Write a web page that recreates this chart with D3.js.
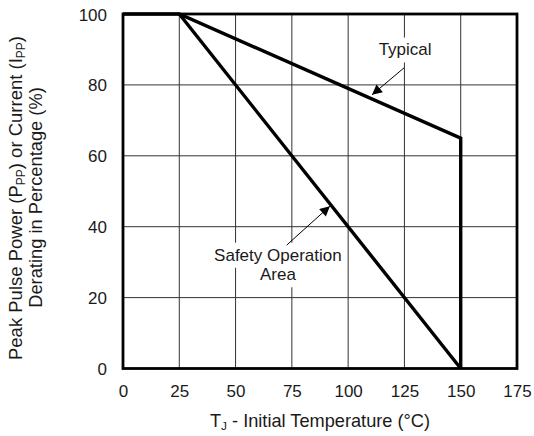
<!DOCTYPE html>
<html>
<head>
<meta charset="utf-8">
<script src="https://cdn.jsdelivr.net/npm/d3@7"></script>
<style>
  body { margin: 0; background: #fff; }
  text { font-family: "Liberation Sans", Arial, sans-serif; fill: #1a1a1a; }
</style>
</head>
<body>
<svg id="chart"></svg>
<script>
// data
const xTicks = [0, 25, 50, 75, 100, 125, 150, 175];
const yTicks = [0, 20, 40, 60, 80, 100];
const typical = [[0, 100], [25, 100], [150, 65], [150, 0]];
const safety = [[25, 100], [150, 0]];

const width = 534;
const height = 436;
const margin = { top: 14, right: 17, bottom: 67.5, left: 123 };
const visWidth = width - margin.left - margin.right;
const visHeight = height - margin.top - margin.bottom;

const svg = d3.select("#chart").attr("width", width).attr("height", height);

const x = d3.scaleLinear().domain([0, 175]).range([0, visWidth]);
const y = d3.scaleLinear().domain([0, 100]).range([visHeight, 0]);

const g = svg.append("g").attr("transform", `translate(${margin.left}, ${margin.top})`);

// grid
g.append("g")
  .selectAll("line")
  .data(xTicks.slice(1, -1))
  .join("line")
  .attr("x1", (d) => x(d))
  .attr("x2", (d) => x(d))
  .attr("y1", 0)
  .attr("y2", visHeight)
  .attr("stroke", "#333")
  .attr("stroke-width", 1);

g.append("g")
  .selectAll("line")
  .data(yTicks.slice(1, -1))
  .join("line")
  .attr("x1", 0)
  .attr("x2", visWidth)
  .attr("y1", (d) => y(d))
  .attr("y2", (d) => y(d))
  .attr("stroke", "#333")
  .attr("stroke-width", 1);

// tick labels
const xAxis = g.append("g")
  .attr("transform", `translate(0,${visHeight})`)
  .call(d3.axisBottom(x).tickValues(xTicks).tickSize(0).tickPadding(0))
  .call((g) => g.select(".domain").remove());
xAxis.selectAll("text")
  .attr("font-size", 17)
  .attr("fill", "#1a1a1a")
  .attr("dy", null)
  .attr("y", 28.5);

const yAxis = g.append("g")
  .call(d3.axisLeft(y).tickValues(yTicks).tickSize(0).tickPadding(16))
  .call((g) => g.select(".domain").remove());
yAxis.selectAll("text")
  .attr("font-size", 17)
  .attr("fill", "#1a1a1a")
  .attr("dy", 6);

// annotation labels with white boxes
function label(lines, cx, base, lh) {
  const grp = g.append("g");
  const texts = lines.map((t, i) =>
    grp.append("text")
      .attr("x", cx)
      .attr("y", base + i * lh)
      .attr("text-anchor", "middle")
      .attr("font-size", 17)
      .text(t)
  );
  texts.forEach((t) => {
    const b = t.node().getBBox();
    grp.insert("rect", "text")
      .attr("x", b.x - 3)
      .attr("y", b.y - 3)
      .attr("width", b.width + 6)
      .attr("height", b.height + 6)
      .attr("fill", "white");
  });
}

label(["Typical"], x(125.3), y(88.3), 0);
label(["Safety Operation", "Area"], x(68.8), y(30.4), 19.5);

// arrows
svg.append("defs").append("marker")
  .attr("id", "arrow")
  .attr("viewBox", "0 0 10 10")
  .attr("refX", 10)
  .attr("refY", 5)
  .attr("markerWidth", 13)
  .attr("markerHeight", 10)
  .attr("markerUnits", "userSpaceOnUse")
  .attr("orient", "auto")
  .append("path")
  .attr("d", "M0,0 L10,5 L0,10 Z")
  .attr("fill", "#000");

g.append("line")
  .attr("x1", x(124.8)).attr("y1", y(84.8))
  .attr("x2", x(110.6)).attr("y2", y(77.2))
  .attr("stroke", "#000").attr("stroke-width", 1)
  .attr("marker-end", "url(#arrow)");

g.append("line")
  .attr("x1", x(72.7)).attr("y1", y(34.8))
  .attr("x2", x(91.9)).attr("y2", y(45.8))
  .attr("stroke", "#000").attr("stroke-width", 1)
  .attr("marker-end", "url(#arrow)");

// curves
const line = d3.line().x((d) => x(d[0])).y((d) => y(d[1]));

g.append("path")
  .datum(typical)
  .attr("d", line)
  .attr("fill", "none")
  .attr("stroke", "#000")
  .attr("stroke-width", 3.4)
  .attr("stroke-linejoin", "miter");

g.append("path")
  .datum(safety)
  .attr("d", line)
  .attr("fill", "none")
  .attr("stroke", "#000")
  .attr("stroke-width", 3.4);

// frame
g.append("rect")
  .attr("x", 0)
  .attr("y", 0)
  .attr("width", visWidth)
  .attr("height", visHeight)
  .attr("fill", "none")
  .attr("stroke", "#000")
  .attr("stroke-width", 2.8);

// axis titles, subscript spans sized in px
function sub(text, parts, fs) {
  text.attr("font-size", fs);
  parts.forEach((p, i) => {
    const s = text.append("tspan").text(p);
    if (i % 2 === 1) s.attr("font-size", fs * 0.65).attr("dy", 3);
    else if (i > 0) s.attr("dy", -3);
  });
}

const xt = svg.append("text")
  .attr("x", margin.left + visWidth / 2)
  .attr("y", 427)
  .attr("text-anchor", "middle");
sub(xt, ["T", "J", " - Initial Temperature (°C)"], 18.2);

const yt = svg.append("text")
  .attr("transform", "translate(22, 198) rotate(-90)")
  .attr("text-anchor", "middle");
sub(yt, ["Peak Pulse Power (P", "PP", ") or Current (I", "PP", ")"], 18.5);

const yt2 = svg.append("text")
  .attr("transform", "translate(42, 197.5) rotate(-90)")
  .attr("text-anchor", "middle")
  .attr("font-size", 18.3)
  .text("Derating in Percentage (%)");

// nudge each rotated title so its drawn extent is centred where the original is
[[yt, 198, 22], [yt2, 197.5, 42]].forEach(([t, cy, bx]) => {
  const r = t.node().getBoundingClientRect();
  const mid = r.top + r.height / 2;
  t.attr("transform", `translate(${bx}, ${2 * cy - mid}) rotate(-90)`);
});
</script>
</body>
</html>
